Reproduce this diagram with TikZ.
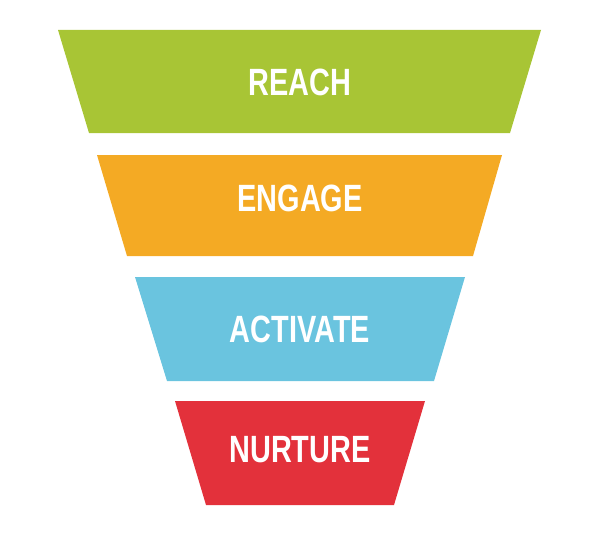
\documentclass[tikz,border=0pt]{standalone}
\usepackage{fontspec}
\setmainfont{Liberation Sans}
\definecolor{reachgreen}{HTML}{A8C535}
\definecolor{engageorange}{HTML}{F4AA24}
\definecolor{activateblue}{HTML}{6AC4DF}
\definecolor{nurturered}{HTML}{E3313B}
\tikzset{
  stagelabel/.style={text=white, font=\fontsize{38}{38}\selectfont\bfseries, xscale=0.76}
}
\begin{document}
\begin{tikzpicture}[x=1pt,y=-1pt]
		\useasboundingbox (0,0) rectangle (600,535);
		\fill[reachgreen] (58,30) -- (541,30) -- (510,133) -- (89,133) -- cycle;
		\node[stagelabel] (reach) at (300,82) {REACH};
		\fill[engageorange] (97,155) -- (502,155) -- (473,256) -- (127,256) -- cycle;
		\node[stagelabel] (engage) at (300,198) {ENGAGE};
		\fill[activateblue] (135,277) -- (465,277) -- (434,381) -- (167,381) -- cycle;
		\node[stagelabel] (activate) at (300,329) {ACTIVATE};
		\fill[nurturered] (175,401) -- (425,401) -- (394,505) -- (206,505) -- cycle;
		\node[stagelabel] (nurture) at (300,450) {NURTURE};
	\end{tikzpicture}
\end{document}
